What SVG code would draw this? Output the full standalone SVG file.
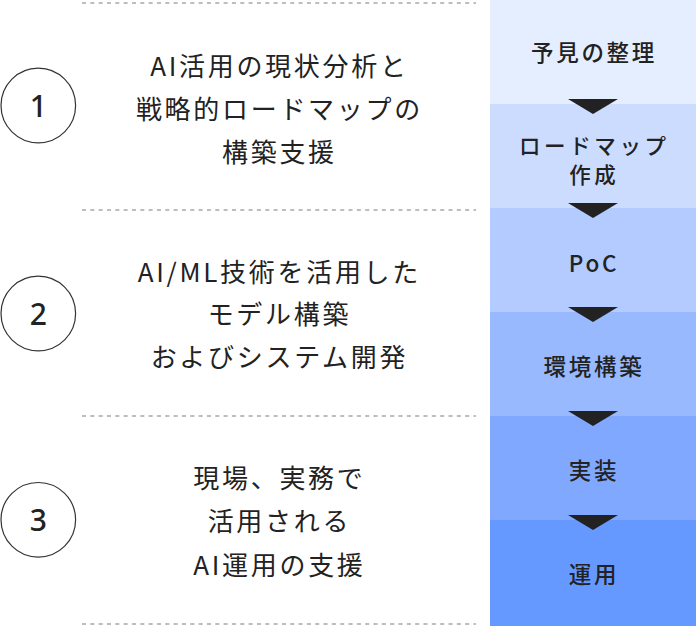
<svg xmlns="http://www.w3.org/2000/svg" width="696" height="626" viewBox="0 0 696 626">
<style>
.dash{stroke:#bdbdbd;stroke-width:2;stroke-dasharray:4 4.33;fill:none}
.circ{fill:#fff;stroke:#333;stroke-width:1.2}
.num{font-family:"Noto Sans","Noto Sans CJK JP",sans-serif;font-size:30px;font-weight:500;fill:#222;text-anchor:middle}
.lt{font-family:"Noto Sans CJK JP","Noto Sans",sans-serif;font-size:26px;font-weight:400;fill:#222;text-anchor:middle;letter-spacing:2.7px}
.rt{font-family:"Noto Sans CJK JP","Noto Sans",sans-serif;font-size:22.5px;font-weight:500;fill:#222;text-anchor:middle;letter-spacing:2.7px}
.rt2{font-size:21.5px;letter-spacing:3.6px}
.tri{fill:#222}
</style>
<rect width="696" height="626" fill="#fff"/>
<g id="dividers">
<line class="dash" x1="82" y1="3" x2="476" y2="3"/>
<line class="dash" x1="82" y1="210" x2="476" y2="210"/>
<line class="dash" x1="82" y1="416" x2="476" y2="416"/>
<line class="dash" x1="82" y1="624" x2="476" y2="624"/>
</g>
<g id="item1">
<circle class="circ" cx="38.3" cy="105.5" r="37.3"/>
<text class="num" x="38.3" y="117">1</text>
<text class="lt" x="279.4" y="75.5">AI活用の現状分析と</text>
<text class="lt" x="279.4" y="118.5">戦略的ロードマップの</text>
<text class="lt" x="279.4" y="161.5">構築支援</text>
</g>
<g id="item2">
<circle class="circ" cx="38.3" cy="313.5" r="37.3"/>
<text class="num" x="38.3" y="325">2</text>
<text class="lt" x="279.4" y="281.5">AI/ML技術を活用した</text>
<text class="lt" x="279.4" y="324">モデル構築</text>
<text class="lt" x="279.4" y="366.5">およびシステム開発</text>
</g>
<g id="item3">
<circle class="circ" cx="38.3" cy="519.8" r="37.3"/>
<text class="num" x="38.3" y="530.7">3</text>
<text class="lt" x="279.4" y="487.5">現場、実務で</text>
<text class="lt" x="279.4" y="531">活用される</text>
<text class="lt" x="279.4" y="575">AI運用の支援</text>
</g>
<g id="step1">
<rect x="490" y="0" width="206" height="104" fill="#e5eeff"/>
<text class="rt" x="594" y="60.7">予見の整理</text>
</g>
<g id="step2">
<rect x="490" y="104" width="206" height="104" fill="#ccdcff"/>
<text class="rt rt2" x="594.3" y="154.4">ロードマップ</text>
<text class="rt rt2" x="594.3" y="182.6">作成</text>
</g>
<g id="step3">
<rect x="490" y="208" width="206" height="104" fill="#b3cbff"/>
<text class="rt" x="594" y="271.7">PoC</text>
</g>
<g id="step4">
<rect x="490" y="312" width="206" height="104" fill="#99b9ff"/>
<text class="rt" x="594" y="375.2">環境構築</text>
</g>
<g id="step5">
<rect x="490" y="416" width="206" height="104" fill="#80a8ff"/>
<text class="rt" x="594" y="478.5">実装</text>
</g>
<g id="step6">
<rect x="490" y="520" width="206" height="106" fill="#6699ff"/>
<text class="rt" x="594" y="583">運用</text>
</g>
<g id="connectors">
<polygon class="tri" points="568,99 618,99 593,114"/>
<polygon class="tri" points="568,203 618,203 593,218"/>
<polygon class="tri" points="568,307 618,307 593,322"/>
<polygon class="tri" points="568,411 618,411 593,426"/>
<polygon class="tri" points="568,515 618,515 593,530"/>
</g>
</svg>
